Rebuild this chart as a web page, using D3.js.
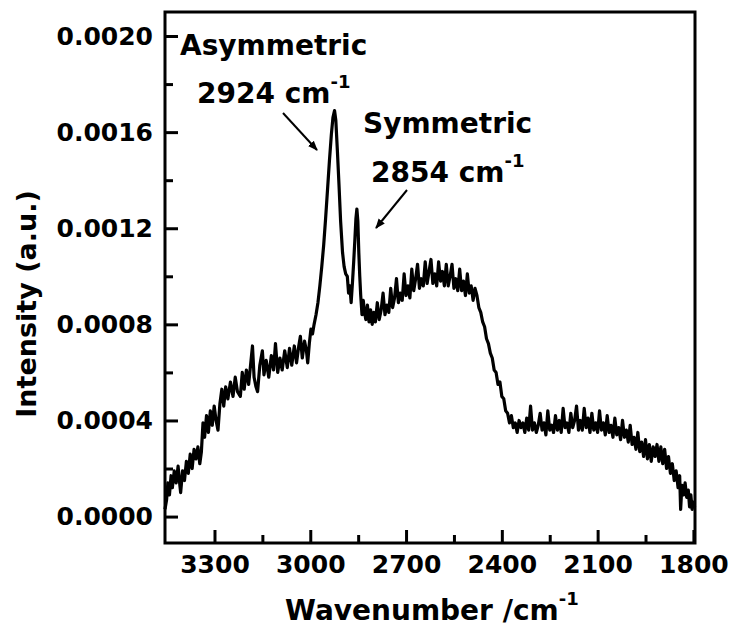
<!DOCTYPE html>
<html>
<head>
<meta charset="utf-8">
<script src="https://cdnjs.cloudflare.com/ajax/libs/d3/7.8.5/d3.min.js"></script>
<style>
  body { margin: 0; background: #fff; }
  text { font-family: "DejaVu Sans", Verdana, sans-serif; font-weight: bold; fill: #000; }
</style>
</head>
<body>
<div id="chart"></div>
<script>
// Spectrum: [wavenumber (cm-1), intensity (x 1e-4 a.u.)]
var spectrum = [
  [3455,0.3],[3450,0.7],[3446,1.4],[3441,0.9],[3436,1.7],[3432,1.2],[3426,1.9],[3420,1.4],[3414,2.1],[3410,1.5],
  [3406,1.0],[3400,1.9],[3394,1.5],[3388,2.3],[3382,1.8],[3376,2.6],[3370,2.0],[3364,2.8],[3358,2.4],[3352,2.9],
  [3346,2.2],[3341,2.7],[3336,3.9],[3331,3.3],[3325,4.2],[3319,3.5],[3313,4.4],[3307,3.8],[3301,4.6],[3295,4.0],
  [3289,3.6],[3283,4.7],[3277,5.3],[3271,4.6],[3265,5.4],[3258,4.9],[3250,5.6],[3242,5.0],[3235,5.8],[3228,5.2],
  [3219,5.0],[3213,6.0],[3207,5.3],[3200,6.1],[3193,5.5],[3187,6.3],[3181,7.1],[3176,5.8],[3170,5.4],[3165,5.2],
  [3158,6.3],[3150,6.9],[3145,5.9],[3138,6.5],[3130,5.8],[3122,6.7],[3115,6.1],[3109,7.2],[3102,6.0],[3095,6.6],
  [3088,6.1],[3080,6.9],[3072,6.2],[3065,7.0],[3058,6.3],[3050,7.1],[3043,6.4],[3036,7.1],[3031,7.5],[3025,6.6],
  [3018,7.3],[3012,6.9],[3008,6.4],[3003,7.2],[2998,7.8],[2993,7.6],[2988,8.0],[2982,8.4],[2976,8.9],[2970,9.6],
  [2964,10.4],[2958,11.3],[2952,12.4],[2946,13.6],[2940,14.8],[2934,15.9],[2929,16.6],[2924,16.9],[2920,16.5],[2915,15.2],
  [2910,13.8],[2905,12.3],[2899,11.0],[2894,10.4],[2889,10.1],[2884,10.0],[2880,9.3],[2876,9.6],[2872,8.9],[2868,9.7],
  [2864,10.6],[2860,11.6],[2857,12.4],[2854,12.8],[2851,12.3],[2848,11.0],[2845,10.0],[2842,9.2],[2838,8.4],[2834,9.0],
  [2830,8.5],[2826,8.2],[2821,8.8],[2816,8.1],[2811,8.6],[2806,8.0],[2801,8.5],[2796,8.1],[2790,8.9],[2784,8.2],
  [2778,8.6],[2772,9.3],[2766,8.4],[2760,8.8],[2754,8.5],[2748,9.5],[2742,8.7],[2736,9.1],[2730,9.9],[2724,8.9],
  [2718,9.3],[2712,9.0],[2706,10.1],[2700,9.2],[2694,9.6],[2688,9.1],[2682,10.3],[2676,9.4],[2670,9.9],[2664,10.5],
  [2658,9.5],[2652,9.9],[2646,9.6],[2640,10.6],[2634,9.7],[2628,10.2],[2622,10.7],[2616,9.7],[2610,10.1],[2604,9.6],
  [2598,10.6],[2592,9.8],[2586,10.2],[2580,9.6],[2574,10.5],[2568,9.6],[2562,10.0],[2556,10.5],[2550,9.5],[2544,9.9],
  [2538,9.4],[2532,10.3],[2526,9.4],[2520,9.8],[2514,9.2],[2508,10.1],[2502,9.3],[2496,9.6],[2490,9.0],[2484,9.5],
  [2478,9.2],[2472,8.7],[2466,8.5],[2460,8.1],[2454,7.9],[2448,7.4],[2442,7.2],[2436,6.8],[2430,6.6],[2424,6.1],
  [2418,6.0],[2412,5.5],[2406,5.6],[2400,5.0],[2394,4.9],[2388,4.4],[2382,4.3],[2376,3.9],[2370,4.2],[2364,3.7],
  [2358,3.9],[2352,3.5],[2346,4.0],[2340,3.7],[2334,3.9],[2328,3.5],[2322,4.1],[2316,3.6],[2310,4.6],[2304,3.6],
  [2298,3.9],[2292,3.5],[2286,3.8],[2280,4.3],[2274,3.6],[2268,3.9],[2262,3.4],[2256,4.4],[2250,3.6],[2244,3.8],
  [2238,3.5],[2232,4.2],[2226,3.6],[2220,4.0],[2214,3.5],[2208,4.5],[2202,3.7],[2196,3.9],[2190,3.5],[2184,4.3],
  [2178,3.7],[2172,4.0],[2166,4.6],[2160,3.6],[2154,4.0],[2148,3.6],[2142,4.5],[2136,3.7],[2130,4.1],[2124,3.5],
  [2118,4.3],[2112,3.6],[2106,3.9],[2100,3.5],[2094,4.4],[2088,3.6],[2082,3.9],[2076,3.4],[2070,4.2],[2064,3.5],
  [2058,3.8],[2052,3.3],[2046,4.1],[2040,3.4],[2034,3.7],[2028,3.2],[2022,4.0],[2016,3.3],[2010,3.6],[2004,3.1],
  [1998,3.8],[1992,3.0],[1986,3.3],[1980,2.8],[1974,3.5],[1968,2.7],[1962,3.1],[1956,2.5],[1950,3.2],[1944,2.4],
  [1938,3.0],[1932,2.3],[1926,2.9],[1920,2.5],[1914,3.0],[1908,2.3],[1902,2.9],[1896,2.2],[1890,2.8],[1884,2.0],
  [1878,2.5],[1872,1.8],[1866,2.2],[1860,1.5],[1854,1.9],[1848,1.2],[1843,1.7],[1840,0.3],[1836,1.3],[1831,0.9],
  [1826,1.4],[1821,0.8],[1816,1.1],[1812,0.4],[1808,0.9],[1804,0.3],[1800,0.6],[1796,0.4]
];

var xMajorTicks = [3300, 3000, 2700, 2400, 2100, 1800];
var xMinorTicks = [3150, 2850, 2550, 2250, 1950];
var yMajorTicks = [0, 0.0004, 0.0008, 0.0012, 0.0016, 0.0020];
var yMinorTicks = [0.0002, 0.0006, 0.0010, 0.0014, 0.0018];

var annotations = [
  { line1: "Asymmetric", peak: "2924", x1: 180, y1: 55, x2: 197, y2: 103, from: [283, 113], to: [317, 150] },
  { line1: "Symmetric",  peak: "2854", x1: 363, y1: 133, x2: 371, y2: 182, from: [407, 190], to: [376, 228] }
];

var points = spectrum.map(function (d) { return { x: d[0], y: d[1] * 1e-4 }; });

// sizes
var W = 731, H = 628;
var margin = { top: 12, right: 36, bottom: 85, left: 165 };
var w = W - margin.left - margin.right;
var h = H - margin.top - margin.bottom;

var svg = d3.select('#chart').append('svg')
  .attr('width', W)
  .attr('height', H);

var g = svg.append('g')
  .attr('transform', 'translate(' + margin.left + ',' + margin.top + ')');

var x = d3.scaleLinear().domain([3455, 1795]).range([0, w]);
var y = d3.scaleLinear().domain([-0.00011, 0.0021]).range([h, 0]);

// spectrum
var line = d3.line()
  .x(function (d) { return x(d.x); })
  .y(function (d) { return y(d.y); });

g.append('path')
  .datum(points)
  .attr('d', line)
  .attr('fill', 'none')
  .attr('stroke', '#000')
  .attr('stroke-width', 3.2)
  .attr('stroke-linejoin', 'round');

// axes, ticks pointing in
g.append('g')
  .attr('transform', 'translate(0,' + h + ')')
  .call(d3.axisBottom(x).tickValues(xMajorTicks).tickSize(-13).tickPadding(12).tickFormat(d3.format('d')));
g.append('g')
  .attr('transform', 'translate(0,' + h + ')')
  .call(d3.axisBottom(x).tickValues(xMinorTicks).tickSize(-8).tickFormat(''));

g.append('g')
  .call(d3.axisLeft(y).tickValues(yMajorTicks).tickSize(-13).tickPadding(12).tickFormat(d3.format('.4f')));
g.append('g')
  .call(d3.axisLeft(y).tickValues(yMinorTicks).tickSize(-8).tickFormat(''));

g.selectAll('.domain').remove();
g.selectAll('.tick line').attr('stroke', '#000').attr('stroke-width', 3);
g.selectAll('.tick text').style('font-size', '25px').style('font-family', '"DejaVu Sans", Verdana, sans-serif').style('font-weight', 'bold');

// frame
g.append('rect')
  .attr('width', w)
  .attr('height', h)
  .attr('fill', 'none')
  .attr('stroke', '#000')
  .attr('stroke-width', 3);

// axis titles
var xt = svg.append('text')
  .attr('x', 285)
  .attr('y', 620)
  .style('font-size', '28px');
xt.append('tspan').text('Wavenumber /cm');
xt.append('tspan').attr('dy', -15).style('font-size', '18px').text('-1');

svg.append('text')
  .attr('transform', 'translate(36,304) rotate(-90)')
  .attr('text-anchor', 'middle')
  .style('font-size', '27px')
  .text('Intensity (a.u.)');

// annotations
svg.append('defs').append('marker')
  .attr('id', 'arrow')
  .attr('viewBox', '0 0 10 10')
  .attr('refX', 9).attr('refY', 5)
  .attr('markerWidth', 5).attr('markerHeight', 5)
  .attr('orient', 'auto')
  .append('path')
  .attr('d', 'M0,1 L10,5 L0,9 Z')
  .attr('fill', '#000');

annotations.forEach(function (a) {
  svg.append('text').attr('x', a.x1).attr('y', a.y1).style('font-size', '28px').text(a.line1);
  var t = svg.append('text').attr('x', a.x2).attr('y', a.y2).style('font-size', '28px');
  t.append('tspan').text(a.peak + ' cm');
  t.append('tspan').attr('dy', -15).style('font-size', '18px').text('-1');
  svg.append('line')
    .attr('x1', a.from[0]).attr('y1', a.from[1])
    .attr('x2', a.to[0]).attr('y2', a.to[1])
    .attr('stroke', '#000')
    .attr('stroke-width', 2)
    .attr('marker-end', 'url(#arrow)');
});
</script>
</body>
</html>
